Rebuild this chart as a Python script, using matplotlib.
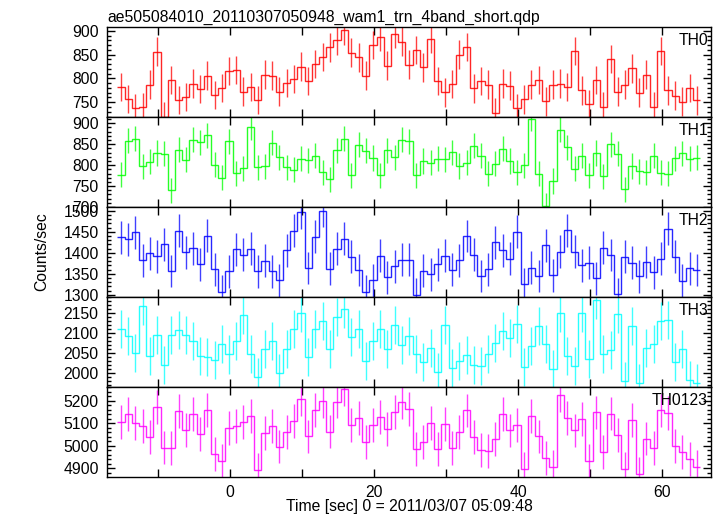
import numpy as np
import matplotlib
matplotlib.use("Agg")
import matplotlib.pyplot as plt
from matplotlib.ticker import MultipleLocator

plt.rcParams['font.family'] = ['Liberation Sans', 'DejaVu Sans']

# light curve, 1 s bins
t_start = -15.66
bin_width = 1.0

th0 = [782, 757, 737, 739, 787, 856, 720, 797, 755, 761, 789, 778, 806, 765, 780, 816, 818,
       772, 782, 755, 808, 806, 772, 790, 799, 825, 795, 830, 845, 865, 880, 901, 854, 844,
       806, 870, 888, 827, 893, 877, 829, 860, 823, 883, 795, 771, 788, 850, 866, 779, 795,
       787, 728, 789, 785, 737, 756, 787, 797, 752, 787, 789, 782, 858, 775, 746, 797, 741,
       841, 772, 787, 821, 770, 808, 741, 858, 775, 764, 751, 780, 754]
th1 = [777, 858, 863, 797, 808, 829, 827, 740, 837, 813, 861, 855, 871, 801, 770, 857, 781,
       793, 890, 795, 797, 854, 819, 795, 789, 815, 812, 822, 783, 766, 836, 863, 776, 849,
       834, 817, 776, 835, 819, 861, 857, 776, 810, 806, 815, 814, 831, 798, 806, 846, 822,
       779, 803, 839, 810, 783, 800, 911, 780, 703, 762, 885, 843, 791, 822, 776, 829, 773,
       850, 827, 742, 798, 785, 783, 823, 782, 779, 816, 828, 815, 818]
th2 = [1437, 1432, 1449, 1382, 1399, 1392, 1420, 1357, 1453, 1401, 1411, 1373, 1441, 1361,
       1308, 1356, 1408, 1396, 1410, 1356, 1381, 1356, 1335, 1406, 1453, 1496, 1364, 1438,
       1500, 1362, 1410, 1434, 1391, 1359, 1308, 1335, 1393, 1342, 1368, 1384, 1384, 1300,
       1358, 1349, 1373, 1393, 1360, 1382, 1440, 1396, 1345, 1361, 1425, 1406, 1386, 1450,
       1326, 1365, 1345, 1418, 1347, 1403, 1454, 1403, 1370, 1377, 1339, 1412, 1395, 1302,
       1391, 1377, 1344, 1378, 1354, 1386, 1457, 1391, 1334, 1363, 1359]
th3 = [2111, 2092, 2049, 2168, 2042, 2095, 2020, 2095, 2107, 2094, 2080, 2042, 2040, 2033,
       2073, 2046, 2080, 2145, 2048, 1988, 2060, 2080, 2000, 2060, 2110, 2150, 2040, 2110,
       2130, 2060, 2140, 2160, 2090, 2110, 2030, 2080, 2110, 2060, 2120, 2071, 2093, 2048,
       2027, 2062, 2001, 2120, 2011, 2030, 2045, 2019, 2018, 2048, 2074, 2106, 2087, 2123,
       2014, 2068, 2119, 2072, 2009, 2150, 2043, 2016, 2151, 2034, 2183, 2047, 2057, 2147,
       1978, 2118, 1975, 2063, 2072, 2131, 2133, 2027, 2060, 1982, 1974]
th0123 = [5107, 5140, 5100, 5087, 5038, 5171, 4992, 4990, 5153, 5070, 5141, 5053, 5160, 4962,
          4932, 5078, 5086, 5107, 5132, 4891, 5056, 5086, 4996, 5061, 5111, 5206, 5041, 5160,
          5198, 5063, 5196, 5250, 5091, 5122, 5018, 5092, 5127, 5074, 5150, 5193, 5163, 4984,
          5018, 5100, 4984, 5098, 4990, 5060, 5157, 5040, 4980, 4975, 5030, 5140, 5068, 5093,
          4896, 5131, 5041, 4945, 4905, 5227, 5122, 5068, 5118, 4933, 5148, 4973, 5143, 5048,
          4898, 5114, 4874, 5032, 4990, 5157, 5144, 4998, 4973, 4940, 4905]

bands = ['TH0', 'TH1', 'TH2', 'TH3', 'TH0123']
series = [th0, th1, th2, th3, th0123]
errors = [30, 30, 39, 48, 75]
colors = ['#ff0000', '#00ff00', '#0000ff', '#00ffff', '#ff00ff']
ylims = [(719, 908), (700, 915), (1295, 1509), (1964, 2191), (4861, 5261)]
major = [50, 50, 50, 50, 100]
minor = [10, 10, 10, 10, 20]

fig = plt.figure(figsize=(7.17, 5.16), dpi=100)
W, H = 717, 516
left, right, top, ph = 107, 711, 27, 90

axes = []
for i in range(5):
    b = H - top - ph * (i + 1)
    ax = fig.add_axes([left / W, b / H, (right - left) / W, ph / H])
    axes.append(ax)

for i, ax in enumerate(axes):
    vals = np.array(series[i], dtype=float)
    n = len(vals)
    edges = t_start + np.arange(n + 1) * bin_width
    centers = 0.5 * (edges[:-1] + edges[1:])
    ax.errorbar(centers, vals, yerr=errors[i], fmt='none', ecolor=colors[i],
                elinewidth=1.0, alpha=0.75)
    # no baseline -> no drop lines at the ends
    ax.stairs(vals, edges, baseline=None, color=colors[i], lw=1.0, alpha=0.85)

    ax.set_xlim(-17.1, 66.8)
    ax.set_ylim(*ylims[i])
    ax.xaxis.set_major_locator(MultipleLocator(20))
    ax.xaxis.set_minor_locator(MultipleLocator(10))
    ax.yaxis.set_major_locator(MultipleLocator(major[i]))
    ax.yaxis.set_minor_locator(MultipleLocator(minor[i]))
    ax.tick_params(axis='both', which='both', direction='in', top=True, right=True,
                   labelsize=11.3, width=1.0, pad=6)
    ax.tick_params(axis='both', which='major', length=6)
    ax.tick_params(axis='x', which='minor', length=6)
    ax.tick_params(axis='y', which='minor', length=3)
    for sp in ax.spines.values():
        sp.set_linewidth(1.0)
    if i < 4:
        ax.tick_params(axis='x', labelbottom=False)
    ax.text(0.995, 0.93, bands[i], transform=ax.transAxes, ha='right', va='top',
            fontsize=11.3)

axes[0].set_title('ae505084010_20110307050948_wam1_trn_4band_short.qdp',
                  loc='left', fontsize=11.3, pad=4)
fig.text(409 / W, 1 - 507 / H, 'Time [sec] 0 = 2011/03/07 05:09:48', ha='center',
         va='center', fontsize=11.3)
fig.text(42 / W, 1 - 252 / H, 'Counts/sec', rotation=90, ha='center', va='center',
         fontsize=11.3)

fig.savefig('out.png', dpi=100)
